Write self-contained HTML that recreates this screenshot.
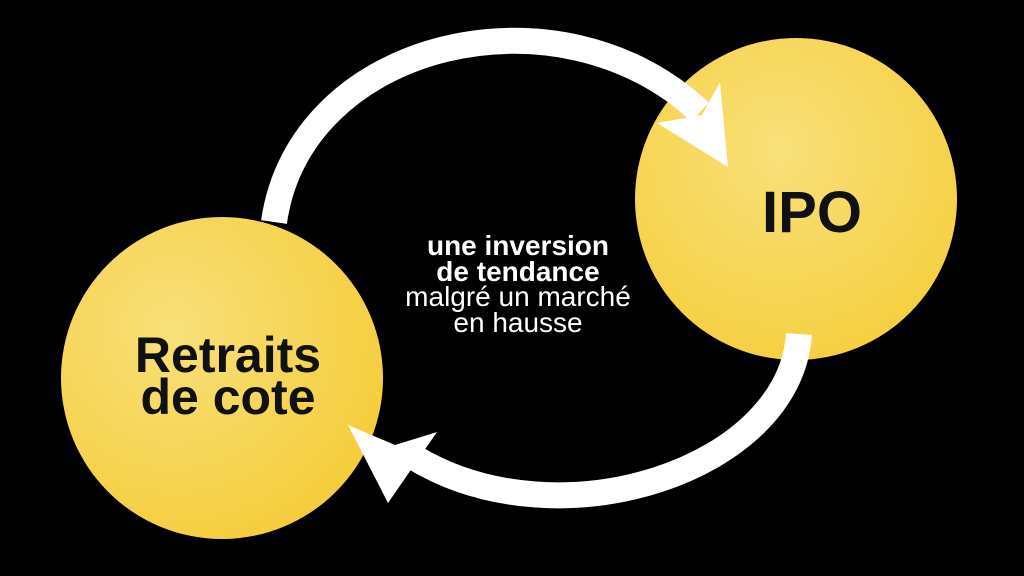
<!DOCTYPE html>
<html><head><style>
html,body{margin:0;padding:0;background:#000;}
svg{display:block;}
text{font-family:"Liberation Sans",sans-serif;}
</style></head><body>
<svg width="1024" height="576" viewBox="0 0 1024 576">
<defs>
<radialGradient id="g1" cx="0.45" cy="0.35" r="0.7">
<stop offset="0" stop-color="#f8e07a"/><stop offset="1" stop-color="#f6cf3e"/>
</radialGradient>
<radialGradient id="g2" cx="0.35" cy="0.35" r="0.75">
<stop offset="0" stop-color="#f8e07a"/><stop offset="1" stop-color="#f5cc38"/>
</radialGradient>
</defs>
<rect width="1024" height="576" fill="#000"/>
<circle cx="222" cy="378" r="161" fill="url(#g2)"/>
<circle cx="796" cy="199" r="161" fill="url(#g1)"/>
<path d="M274 222 C300 40, 560 -20, 700 112" fill="none" stroke="#fff" stroke-width="26"/>
<polygon points="728,167 720,82 702,115 657,123" fill="#fff"/>
<path d="M799 334 C790 470, 560 545, 415 458" fill="none" stroke="#fff" stroke-width="26"/>
<polygon points="388,503 348,425 395,445 437,432" fill="#fff"/>
<text x="812" y="232" font-size="58" font-weight="bold" text-anchor="middle" fill="#111">IPO</text>
<text x="228" y="372" font-size="50" font-weight="bold" text-anchor="middle" fill="#111">Retraits</text>
<text x="228" y="414" font-size="50" font-weight="bold" text-anchor="middle" fill="#111">de cote</text>
<g fill="#fff" text-anchor="middle" font-size="28">
<text x="518" y="255" font-weight="bold">une inversion</text>
<text x="518" y="281" font-weight="bold">de tendance</text>
<text x="518" y="306">malgré un marché</text>
<text x="518" y="332">en hausse</text>
</g>
</svg>
</body></html>
